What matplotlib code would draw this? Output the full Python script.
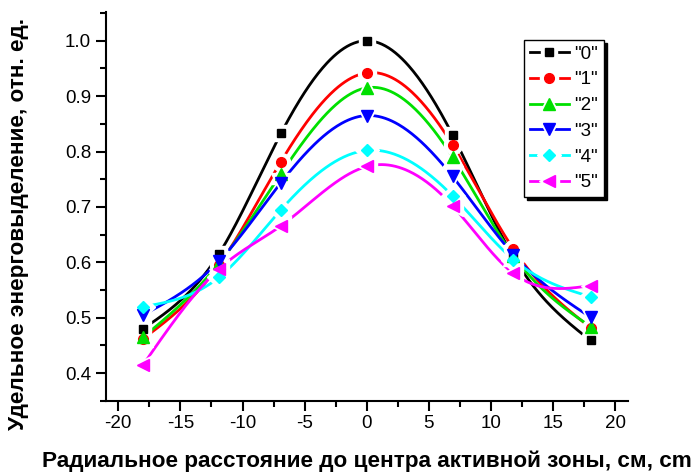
import numpy as np
import matplotlib.pyplot as plt
from matplotlib.lines import Line2D
from matplotlib.legend_handler import HandlerTuple
from matplotlib.ticker import MultipleLocator

plt.rcParams['font.family'] = ['Liberation Sans', 'DejaVu Sans']
plt.rcParams['axes.unicode_minus'] = False

# Radial positions of the measured points, cm
r = [-18, -11.9, -6.9, 0, 6.9, 11.8, 18]

# Relative power density for each state
s0 = [0.480, 0.615, 0.833, 1.000, 0.830, 0.610, 0.459]
s1 = [0.462, 0.595, 0.782, 0.942, 0.812, 0.624, 0.482]
s2 = [0.465, 0.598, 0.760, 0.915, 0.790, 0.612, 0.484]
s3 = [0.505, 0.602, 0.744, 0.865, 0.755, 0.614, 0.501]
s4 = [0.520, 0.573, 0.695, 0.802, 0.720, 0.605, 0.538]
s5 = [0.415, 0.588, 0.666, 0.773, 0.702, 0.580, 0.558]

series = [s0, s1, s2, s3, s4, s5]
labels = ['"0"', '"1"', '"2"', '"3"', '"4"', '"5"']
colors = ['black', 'red', '#00e000', 'blue', 'cyan', 'magenta']
markers = ['s', 'o', '^', 'v', 'D', '<']
msizes = [6, 7, 8, 8, 6, 8]


def natural_spline(x, y, xs):
    # plain natural cubic spline, only used to draw the smooth connecting curve
    x = np.asarray(x, float)
    y = np.asarray(y, float)
    n = len(x)
    h = np.diff(x)
    A = np.zeros((n, n))
    b = np.zeros(n)
    A[0, 0] = A[-1, -1] = 1
    for i in range(1, n - 1):
        A[i, i - 1] = h[i - 1]
        A[i, i] = 2 * (h[i - 1] + h[i])
        A[i, i + 1] = h[i]
        b[i] = 6 * ((y[i + 1] - y[i]) / h[i] - (y[i] - y[i - 1]) / h[i - 1])
    M = np.linalg.solve(A, b)
    k = np.clip(np.searchsorted(x, xs) - 1, 0, n - 2)
    t1 = x[k + 1] - xs
    t0 = xs - x[k]
    hk = h[k]
    return (M[k] * t1 ** 3 + M[k + 1] * t0 ** 3) / (6 * hk) + \
        (y[k] / hk - M[k] * hk / 6) * t1 + (y[k + 1] / hk - M[k + 1] * hk / 6) * t0


fig = plt.figure(figsize=(6.96, 4.75), dpi=100)
ax = fig.add_axes([0.152, 0.156, 0.75, 0.819])

xs = np.linspace(r[0], r[-1], 400)
handles = []
for vals, lab, c, m, ms in zip(series, labels, colors, markers, msizes):
    ax.plot(xs, natural_spline(r, vals, xs), color=c, lw=2, zorder=2)
for vals, lab, c, m, ms in zip(series, labels, colors, markers, msizes):
    ax.plot(r, vals, ls='none', marker=m, ms=ms + 6, color='white', zorder=3)
for vals, lab, c, m, ms in zip(series, labels, colors, markers, msizes):
    ax.plot(r, vals, ls='none', marker=m, ms=ms, color=c, zorder=4)
    handles.append((Line2D([], [], color=c, lw=2),
                    Line2D([], [], ls='none', marker=m, ms=ms + 6, color='white'),
                    Line2D([], [], ls='none', marker=m, ms=ms, color=c)))

ax.set_xlim(-21, 21)
ax.set_ylim(0.35, 1.052)
ax.xaxis.set_major_locator(MultipleLocator(5))
ax.xaxis.set_minor_locator(MultipleLocator(2.5))
ax.yaxis.set_major_locator(MultipleLocator(0.1))
ax.yaxis.set_minor_locator(MultipleLocator(0.05))
ax.yaxis.set_major_formatter(plt.FuncFormatter(lambda v, p: f'{v:.1f}'))
ax.tick_params(which='major', length=7, width=1.5, labelsize=13.5, direction='out')
ax.tick_params(which='minor', length=4, width=1.5, direction='out')
ax.spines['top'].set_visible(False)
ax.spines['right'].set_visible(False)
ax.spines['left'].set_linewidth(1.5)
ax.spines['bottom'].set_linewidth(1.5)

ax.set_xlabel('Радиальное расстояние до центра активной зоны, см, cm',
              fontsize=16.2, fontweight='bold', labelpad=13)
ax.set_ylabel('Удельное энерговыделение, отн. ед.',
              fontsize=16.2, fontweight='bold')
ax.yaxis.set_label_coords(-0.147, 0.456)

leg = ax.legend(handles, labels, handler_map={tuple: HandlerTuple(ndivide=1)},
                loc='upper left', bbox_to_anchor=(0.801, 0.928), fontsize=13.5,
                frameon=True, fancybox=False, shadow={'color': 'black', 'alpha': 1},
                handlelength=2.1, handletextpad=0.3, labelspacing=0.46,
                borderpad=0.3, borderaxespad=0)
leg.get_frame().set_edgecolor('black')
leg.get_frame().set_linewidth(1)

fig.savefig('out.png', dpi=100)
